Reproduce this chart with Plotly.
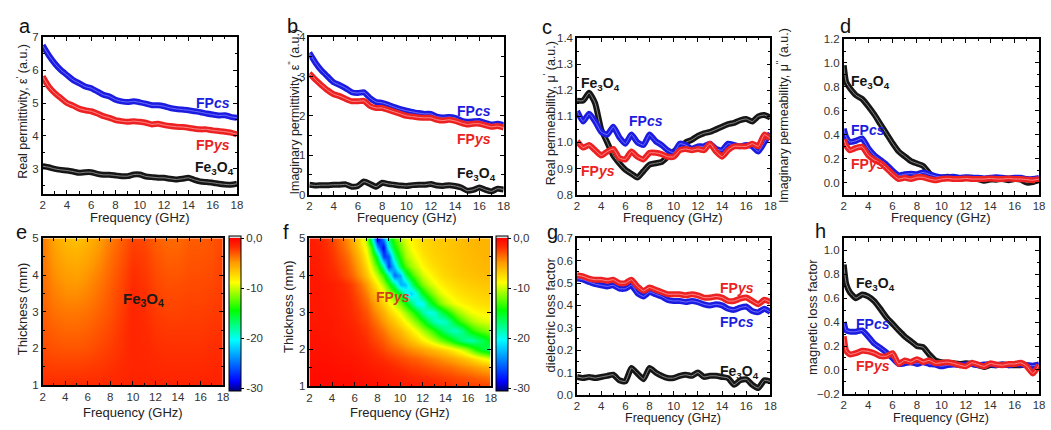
import plotly.graph_objects as go

# ---------------- data ----------------
FREQ = [2.0, 2.5, 3.0, 3.5, 4.0, 4.5, 5.0, 5.5, 6.0, 6.5, 7.0, 7.5, 8.0, 8.5, 9.0, 9.5, 10.0,
        10.5, 11.0, 11.5, 12.0, 12.5, 13.0, 13.5, 14.0, 14.5, 15.0, 15.5, 16.0, 16.5, 17.0, 17.5, 18.0]
FREQ_D = [2.0, 2.2, 2.5, 3.0, 3.5, 4.0, 4.5, 5.0, 5.5, 6.0, 6.5, 7.0, 7.5, 8.0, 8.5, 9.0, 9.5, 10.0,
          10.5, 11.0, 11.5, 12.0, 12.5, 13.0, 13.5, 14.0, 14.5, 15.0, 15.5, 16.0, 16.5, 17.0, 17.5, 18.0]

# (a) real permittivity
eps1_cs = [6.75, 6.45, 6.2, 6.0, 5.85, 5.7, 5.6, 5.5, 5.45, 5.35, 5.25, 5.2, 5.1, 5.05, 5.03, 5.05, 5.02,
           4.98, 4.93, 4.93, 4.9, 4.85, 4.82, 4.8, 4.78, 4.75, 4.72, 4.68, 4.65, 4.62, 4.63, 4.58, 4.55]
eps1_ys = [5.8, 5.5, 5.3, 5.15, 5.0, 4.92, 4.83, 4.78, 4.75, 4.68, 4.6, 4.55, 4.48, 4.45, 4.43, 4.45, 4.43,
           4.4, 4.35, 4.37, 4.33, 4.3, 4.28, 4.27, 4.25, 4.22, 4.2, 4.2, 4.17, 4.15, 4.13, 4.1, 4.05]
eps1_fe = [3.08, 3.05, 3.0, 2.97, 2.95, 2.92, 2.88, 2.9, 2.9, 2.85, 2.82, 2.82, 2.8, 2.78, 2.78, 2.83, 2.83,
           2.77, 2.75, 2.73, 2.73, 2.7, 2.68, 2.7, 2.73, 2.67, 2.62, 2.6, 2.58, 2.55, 2.53, 2.52, 2.55]

# (b) imaginary permittivity
eps2_cs = [3.6, 3.35, 3.15, 3.0, 2.85, 2.78, 2.7, 2.6, 2.58, 2.6, 2.45, 2.35, 2.33, 2.28, 2.22, 2.17, 2.13,
           2.1, 2.07, 2.05, 2.05, 1.98, 1.96, 1.97, 1.95, 1.88, 1.85, 1.86, 1.87, 1.82, 1.78, 1.8, 1.77]
eps2_ys = [3.08, 2.92, 2.78, 2.65, 2.55, 2.5, 2.43, 2.37, 2.37, 2.38, 2.25, 2.2, 2.2, 2.15, 2.1, 2.05, 2.0,
           1.98, 1.96, 1.95, 1.95, 1.9, 1.88, 1.9, 1.87, 1.82, 1.78, 1.8, 1.8, 1.76, 1.72, 1.74, 1.7]
eps2_fe = [0.25, 0.23, 0.24, 0.24, 0.25, 0.25, 0.26, 0.2, 0.22, 0.33, 0.27, 0.2, 0.3, 0.27, 0.25, 0.23, 0.22,
           0.24, 0.25, 0.25, 0.27, 0.23, 0.22, 0.24, 0.22, 0.18, 0.1, 0.12, 0.18, 0.12, 0.08, 0.15, 0.13]

# (c) real permeability
mu1_cs = [1.12, 1.08, 1.11, 1.08, 1.04, 1.03, 1.06, 1.02, 0.995, 1.03, 1.0, 0.99, 1.03, 1.005, 0.99, 0.97, 0.96,
          0.995, 0.99, 0.975, 0.985, 0.985, 0.995, 0.975, 0.97, 0.995, 0.99, 0.985, 0.99, 0.985, 0.965, 1.0, 1.035]
mu1_ys = [1.005, 0.98, 0.99, 0.97, 0.95, 0.965, 0.975, 0.94, 0.935, 0.965, 0.945, 0.935, 0.96, 0.96, 0.955, 0.945, 0.945,
          0.97, 0.975, 0.97, 0.975, 0.97, 0.995, 0.965, 0.945, 0.97, 0.985, 0.985, 0.985, 0.995, 0.985, 1.03, 1.015]
mu1_fe = [1.16, 1.16, 1.19, 1.15, 1.05, 1.0, 0.95, 0.92, 0.895, 0.88, 0.865, 0.89, 0.915, 0.92, 0.925, 0.945, 0.965,
          0.98, 1.0, 1.01, 1.025, 1.035, 1.04, 1.05, 1.06, 1.07, 1.075, 1.085, 1.09, 1.08, 1.1, 1.105, 1.095]

# (d) imaginary permeability
mu2_cs = [0.45, 0.38, 0.34, 0.35, 0.37, 0.29, 0.23, 0.19, 0.15, 0.10, 0.06, 0.07, 0.075, 0.07, 0.085, 0.07, 0.055,
          0.045, 0.045, 0.05, 0.04, 0.045, 0.04, 0.04, 0.035, 0.04, 0.045, 0.04, 0.035, 0.04, 0.04, 0.03, 0.03, 0.04]
mu2_ys = [0.36, 0.31, 0.27, 0.29, 0.30, 0.23, 0.19, 0.165, 0.12, 0.07, 0.03, 0.04, 0.03, 0.045, 0.045, 0.03, 0.02,
          0.03, 0.035, 0.03, 0.03, 0.035, 0.03, 0.03, 0.03, 0.035, 0.03, 0.03, 0.035, 0.03, 0.03, 0.025, 0.02, 0.03]
mu2_fe = [0.98, 0.84, 0.79, 0.73, 0.70, 0.64, 0.57, 0.49, 0.41, 0.33, 0.26, 0.22, 0.18, 0.16, 0.14, 0.08, 0.04,
          0.04, 0.05, 0.04, 0.03, 0.04, 0.04, 0.03, 0.015, 0.025, 0.025, 0.03, 0.02, 0.03, 0.025, 0.0, 0.005, 0.02]

# (e) reflection loss map (dB), Fe3O4
E_THICK = [1.0, 1.5, 2.0, 2.5, 3.0, 3.5, 4.0, 4.5, 5.0]
E_FREQ = [2, 3, 4, 5, 6, 7, 8, 9, 10, 11, 12, 13, 14, 15, 16, 17, 18]
RL_FE = [
    [-1.8, -1.8, -1.8, -1.8, -1.8, -1.8, -1.7, -1.6, -1.5, -1.5, -1.5, -1.5, -1.5, -1.5, -1.5, -1.4, -1.4],
    [-2.3, -2.4, -2.4, -2.4, -2.3, -2.2, -2.0, -1.8, -1.6, -1.6, -1.7, -1.8, -1.8, -1.8, -1.8, -1.7, -1.6],
    [-2.7, -2.9, -3.0, -3.0, -2.9, -2.6, -2.3, -2.0, -1.6, -1.7, -1.9, -2.0, -2.0, -2.0, -2.0, -1.9, -1.8],
    [-3.0, -3.3, -3.5, -3.5, -3.3, -3.0, -2.6, -2.1, -1.6, -1.8, -2.1, -2.2, -2.2, -2.2, -2.2, -2.1, -2.0],
    [-3.3, -3.8, -4.0, -4.0, -3.8, -3.4, -2.9, -2.3, -1.6, -1.9, -2.3, -2.5, -2.5, -2.4, -2.4, -2.3, -2.2],
    [-3.5, -4.2, -4.6, -4.6, -4.3, -3.8, -3.1, -2.5, -1.7, -2.0, -2.5, -2.7, -2.7, -2.6, -2.6, -2.5, -2.3],
    [-3.7, -4.6, -5.1, -5.2, -4.8, -4.2, -3.4, -2.7, -1.9, -2.2, -2.7, -3.0, -3.0, -2.8, -2.8, -2.7, -2.4],
    [-3.9, -5.0, -5.7, -5.8, -5.4, -4.7, -3.7, -3.0, -2.2, -2.4, -3.0, -3.3, -3.3, -3.0, -3.0, -2.9, -2.5],
    [-4.0, -5.4, -6.3, -6.5, -6.0, -5.2, -4.1, -3.3, -2.5, -2.7, -3.3, -3.6, -3.6, -3.2, -3.2, -3.0, -2.6],
]

# (f) reflection loss map (dB), FPys
F_THICK = [1.0, 1.25, 1.5, 1.75, 2.0, 2.25, 2.5, 2.75, 3.0, 3.25, 3.5, 3.75, 4.0, 4.25, 4.5, 4.75, 5.0]
F_FREQ = FREQ
RL_YS = [
    [-0.4, -0.4, -0.4, -0.4, -0.5, -0.5, -0.5, -0.5, -0.6, -0.6, -0.7, -0.7, -0.8, -0.8, -0.9, -1.0, -1.1,
     -1.2, -1.3, -1.3, -1.4, -1.5, -1.6, -1.7, -1.8, -1.9, -2.0, -2.1, -2.2, -2.3, -2.4, -2.5, -2.6],
    [-0.5, -0.5, -0.5, -0.5, -0.6, -0.6, -0.6, -0.6, -0.7, -0.7, -0.8, -0.9, -1.0, -1.1, -1.2, -1.3, -1.4,
     -1.5, -1.7, -1.8, -1.9, -2.0, -2.1, -2.2, -2.4, -2.5, -2.7, -2.8, -3.0, -3.2, -3.4, -3.6, -3.8],
    [-0.6, -0.6, -0.6, -0.6, -0.7, -0.7, -0.8, -0.8, -0.9, -1.0, -1.1, -1.2, -1.3, -1.4, -1.6, -1.8, -2.0,
     -2.2, -2.4, -2.5, -2.7, -2.9, -3.1, -3.3, -3.5, -3.7, -4.0, -4.3, -4.6, -4.9, -5.3, -5.6, -6.0],
    [-0.7, -0.7, -0.7, -0.7, -0.8, -0.8, -0.9, -0.9, -1.0, -1.1, -1.3, -1.5, -1.7, -1.9, -2.2, -2.4, -2.7,
     -2.9, -3.2, -3.4, -3.7, -4.0, -4.3, -4.6, -5.0, -5.4, -5.8, -6.4, -7.0, -7.7, -8.5, -9.2, -10.0],
    [-0.8, -0.8, -0.8, -0.8, -0.9, -0.9, -1.0, -1.1, -1.2, -1.4, -1.6, -1.9, -2.2, -2.6, -3.0, -3.4, -3.8,
     -4.2, -4.6, -5.0, -5.4, -5.9, -6.4, -6.9, -7.5, -8.2, -9.0, -10.0, -11.5, -13.2, -15.0, -16.2, -17.0],
    [-0.8, -0.8, -0.9, -0.9, -1.0, -1.1, -1.2, -1.3, -1.4, -1.6, -1.9, -2.3, -2.7, -3.2, -3.8, -4.4, -5.0,
     -5.7, -6.5, -7.4, -8.3, -9.3, -10.5, -11.7, -13.0, -14.5, -16.0, -17.5, -18.5, -18.3, -17.0, -15.8, -14.5],
    [-0.9, -0.9, -1.0, -1.0, -1.1, -1.2, -1.3, -1.4, -1.6, -1.9, -2.2, -2.7, -3.3, -4.0, -4.7, -5.5, -6.3,
     -7.2, -8.3, -9.5, -10.8, -12.3, -14.0, -15.8, -17.5, -18.8, -19.0, -17.5, -15.0, -13.5, -12.5, -11.9, -11.5],
    [-1.0, -1.0, -1.0, -1.0, -1.1, -1.2, -1.4, -1.6, -1.8, -2.2, -2.6, -3.2, -4.0, -4.9, -5.8, -6.8, -7.8,
     -9.0, -10.5, -12.2, -14.0, -16.5, -18.8, -19.5, -19.0, -16.8, -14.5, -12.8, -11.5, -10.6, -10.0, -9.7, -9.5],
    [-1.0, -1.0, -1.0, -1.1, -1.2, -1.3, -1.5, -1.7, -2.0, -2.4, -3.0, -3.8, -4.8, -5.8, -7.0, -8.2, -9.5,
     -11.0, -13.0, -15.3, -18.0, -20.0, -19.5, -17.0, -15.0, -13.0, -11.5, -10.4, -9.5, -9.0, -8.7, -8.5, -8.3],
    [-1.0, -1.0, -1.1, -1.1, -1.2, -1.4, -1.6, -1.8, -2.2, -2.8, -3.5, -4.5, -5.8, -7.1, -8.5, -10.1, -12.0,
     -14.3, -17.0, -20.5, -20.5, -16.5, -14.0, -12.0, -10.5, -9.6, -9.0, -8.5, -8.2, -7.9, -7.7, -7.6, -7.5],
    [-1.0, -1.0, -1.1, -1.2, -1.3, -1.5, -1.7, -2.0, -2.5, -3.2, -4.2, -5.5, -7.0, -8.7, -10.5, -12.8, -15.5,
     -19.5, -22.0, -19.0, -15.0, -12.8, -11.0, -9.8, -9.0, -8.4, -8.0, -7.7, -7.5, -7.3, -7.2, -7.1, -7.0],
    [-1.0, -1.0, -1.1, -1.2, -1.3, -1.5, -1.8, -2.2, -2.8, -3.8, -5.0, -6.6, -8.5, -10.8, -13.5, -17.5, -23.0,
     -22.5, -17.5, -13.8, -11.8, -10.3, -9.3, -8.6, -8.0, -7.7, -7.4, -7.2, -7.0, -6.9, -6.8, -6.7, -6.7],
    [-1.0, -1.1, -1.2, -1.4, -1.7, -2.0, -2.5, -3.1, -3.9, -5.0, -6.5, -8.3, -10.5, -13.5, -18.0, -25.5, -23.0,
     -17.0, -13.5, -11.5, -10.0, -9.0, -8.2, -7.7, -7.3, -7.1, -6.9, -6.7, -6.6, -6.5, -6.4, -6.3, -6.3],
    [-1.1, -1.2, -1.3, -1.6, -1.9, -2.3, -2.8, -3.5, -4.4, -5.7, -7.5, -9.8, -13.0, -18.5, -27.0, -22.0, -16.0,
     -12.8, -11.0, -9.8, -8.8, -8.1, -7.6, -7.3, -7.0, -6.8, -6.7, -6.5, -6.4, -6.3, -6.2, -6.1, -6.1],
    [-1.1, -1.2, -1.4, -1.7, -2.1, -2.6, -3.2, -4.0, -5.0, -6.5, -8.5, -11.5, -16.5, -27.0, -26.0, -17.5, -13.5,
     -11.0, -9.8, -8.8, -8.0, -7.5, -7.2, -7.0, -6.9, -6.7, -6.6, -6.4, -6.3, -6.2, -6.1, -6.0, -6.0],
    [-1.2, -1.3, -1.5, -1.9, -2.3, -2.9, -3.6, -4.6, -5.8, -7.3, -9.5, -13.5, -24.0, -29.0, -20.0, -14.5, -12.0,
     -10.3, -9.0, -8.2, -7.6, -7.3, -7.0, -6.9, -6.8, -6.6, -6.5, -6.3, -6.2, -6.1, -6.0, -6.0, -6.0],
    [-1.2, -1.4, -1.6, -2.0, -2.5, -3.2, -4.0, -5.0, -6.3, -8.0, -11.0, -18.0, -30.0, -24.0, -17.0, -13.0, -11.0,
     -9.5, -8.5, -8.0, -7.5, -7.2, -7.0, -6.9, -6.8, -6.6, -6.5, -6.3, -6.2, -6.1, -6.0, -6.0, -6.0],
]

# (g) dielectric loss factor
tde_cs = [0.52, 0.515, 0.505, 0.495, 0.49, 0.485, 0.49, 0.475, 0.475, 0.49, 0.455, 0.44, 0.46, 0.45, 0.44, 0.425, 0.42,
          0.42, 0.415, 0.42, 0.415, 0.405, 0.4, 0.405, 0.4, 0.385, 0.38, 0.39, 0.395, 0.375, 0.37, 0.385, 0.37]
tde_ys = [0.535, 0.53, 0.52, 0.515, 0.515, 0.51, 0.515, 0.5, 0.5, 0.515, 0.485, 0.465, 0.48, 0.47, 0.46, 0.45, 0.45,
          0.45, 0.445, 0.45, 0.445, 0.435, 0.435, 0.44, 0.435, 0.42, 0.42, 0.43, 0.435, 0.42, 0.405, 0.425, 0.415]
tde_fe = [0.08, 0.075, 0.08, 0.075, 0.08, 0.085, 0.09, 0.065, 0.06, 0.12, 0.095, 0.07, 0.12, 0.1, 0.085, 0.075, 0.075,
          0.085, 0.09, 0.085, 0.1, 0.08, 0.085, 0.085, 0.08, 0.075, 0.045, 0.065, 0.07, 0.045, 0.03, 0.065, 0.06]

# (h) magnetic loss factor
tdm_cs = [0.40, 0.33, 0.32, 0.32, 0.33, 0.28, 0.22, 0.185, 0.145, 0.10, 0.05, 0.055, 0.065, 0.05, 0.065, 0.05, 0.045,
          0.03, 0.04, 0.045, 0.04, 0.045, 0.05, 0.04, 0.045, 0.05, 0.04, 0.045, 0.04, 0.05, 0.045, 0.04, 0.035, 0.045]
tdm_ys = [0.28, 0.16, 0.13, 0.14, 0.16, 0.155, 0.14, 0.115, 0.115, 0.14, 0.05, 0.08, 0.065, 0.09, 0.065, 0.08, 0.055,
          0.06, 0.065, 0.055, 0.04, 0.03, 0.06, 0.045, 0.03, 0.055, 0.045, 0.04, 0.05, 0.05, 0.06, 0.03, -0.03, 0.04]
tdm_fe = [0.88, 0.72, 0.65, 0.60, 0.63, 0.615, 0.575, 0.51, 0.44, 0.385, 0.33, 0.28, 0.24, 0.20, 0.19, 0.13, 0.08,
          0.065, 0.06, 0.055, 0.05, 0.055, 0.05, 0.04, 0.025, 0.04, 0.04, 0.045, 0.04, 0.04, 0.04, 0.04, 0.01, 0.04]

# ---------------- styling ----------------
W, H = 1051, 430
FONT = "Arial, 'Liberation Sans', sans-serif"
BLUE, BLUE_CORE = "#1c1ce0", "#7070ff"
RED, RED_CORE = "#ec2222", "#ff8a8a"
BLACK, BLACK_CORE = "#161616", "#8a8a8a"

RL_SCALE = [[0.0, "#00007a"], [0.06, "#0000ff"], [0.33, "#00ffff"], [0.52, "#00ff00"],
            [0.70, "#ffff00"], [0.83, "#ff9900"], [0.93, "#ff2a00"], [0.988, "#ff0000"],
            [0.99, "#dcdcdc"], [1.0, "#dcdcdc"]]

# panel boxes in pixels: left, right, top, bottom
BOX = {
    "a": (40, 236, 32, 193), "b": (309, 505, 32, 194), "c": (579, 774, 33, 194), "d": (848, 1045, 34, 194),
    "e": (40, 222, 239, 390), "f": (309, 492, 239, 391), "g": (579, 774, 239, 400), "h": (848, 1045, 239, 399),
}
ORDER = ["a", "b", "c", "d", "e", "f", "g", "h"]
YAX = {
    "a": dict(range=[2.25, 7], dtick=1, minor=0.5, fmt="d"),
    "b": dict(range=[0, 4], dtick=1, minor=0.5, fmt="d"),
    "c": dict(range=[0.8, 1.4], dtick=0.1, minor=0.05, fmt=".1f"),
    "d": dict(range=[-0.1, 1.2], dtick=0.2, minor=0.1, fmt=".1f"),
    "e": dict(range=[1, 5], dtick=1, minor=0.5, fmt="d"),
    "f": dict(range=[1, 5], dtick=1, minor=0.5, fmt="d"),
    "g": dict(range=[0, 0.7], dtick=0.1, minor=0.05, fmt=".1f"),
    "h": dict(range=[-0.2, 1.1], dtick=0.2, minor=0.1, fmt=".1f"),
}


def px_x(v):
    return v / W


def px_y(v):
    return 1 - v / H


fig = go.Figure()
layout = {}
for i, key in enumerate(ORDER, start=1):
    l, r, t, b = BOX[key]
    sfx = "" if i == 1 else str(i)
    common = dict(showline=True, linecolor="black", linewidth=1.5, mirror="allticks",
                  ticks="inside", ticklen=4, tickwidth=1, tickcolor="black",
                  showgrid=False, zeroline=False,
                  tickfont=dict(family=FONT, size=11.5, color="#333333"))
    layout["xaxis" + sfx] = dict(common, domain=[px_x(l), px_x(r)], anchor="y" + sfx,
                                 range=[2, 18], tick0=2, dtick=2,
                                 minor=dict(ticks="inside", ticklen=2.5, tickcolor="black", dtick=1, tick0=2))
    ya = YAX[key]
    layout["yaxis" + sfx] = dict(common, domain=[px_y(b), px_y(t)], anchor="x" + sfx,
                                 range=ya["range"], dtick=ya["dtick"], tick0=0, tickformat=ya["fmt"],
                                 minor=dict(ticks="inside", ticklen=2.5, tickcolor="black",
                                            dtick=ya["minor"], tick0=0))


def axes_of(key):
    i = ORDER.index(key) + 1
    s = "" if i == 1 else str(i)
    return "x" + s, "y" + s


def band(key, x, y, color, core):
    xa, ya = axes_of(key)
    fig.add_trace(go.Scatter(x=x, y=y, mode="lines", xaxis=xa, yaxis=ya,
                             line=dict(color=color, width=6, shape="spline", smoothing=0.5),
                             showlegend=False, hoverinfo="skip"))
    fig.add_trace(go.Scatter(x=x, y=y, mode="lines", xaxis=xa, yaxis=ya,
                             line=dict(color=core, width=1, shape="spline", smoothing=0.5),
                             showlegend=False, hoverinfo="skip"))


for key, fx, fe, cs, ys in [
    ("a", FREQ, eps1_fe, eps1_cs, eps1_ys),
    ("b", FREQ, eps2_fe, eps2_cs, eps2_ys),
    ("c", FREQ, mu1_fe, mu1_cs, mu1_ys),
    ("d", FREQ_D, mu2_fe, mu2_cs, mu2_ys),
    ("g", FREQ, tde_fe, tde_cs, tde_ys),
    ("h", FREQ_D, tdm_fe, tdm_cs, tdm_ys),
]:
    band(key, fx, fe, BLACK, BLACK_CORE)
    band(key, fx, cs, BLUE, BLUE_CORE)
    band(key, fx, ys, RED, RED_CORE)

for key, fx, thick, z, cbx in [("e", E_FREQ, E_THICK, RL_FE, 228), ("f", F_FREQ, F_THICK, RL_YS, 497)]:
    xa, ya = axes_of(key)
    fig.add_trace(go.Heatmap(
        x=fx, y=thick, z=z, xaxis=xa, yaxis=ya, zsmooth="best",
        colorscale=RL_SCALE, zmin=-30.6, zmax=0.35, hoverinfo="skip",
        colorbar=dict(x=px_x(cbx), xanchor="left", y=px_y(237), yanchor="top",
                      len=159 / H, lenmode="fraction", thickness=12, xpad=0, ypad=0,
                      outlinecolor="black", outlinewidth=1,
                      tickvals=[0, -10, -20, -30], ticktext=["0,0", "-10", "-20", "-30"],
                      ticks="outside", ticklen=3, tickcolor="black",
                      tickfont=dict(family=FONT, size=11.5, color="#333333")),
    ))

ann = []


def label(key, x, y, text, color, xanchor="left", size=14):
    xa, ya = axes_of(key)
    ann.append(dict(xref=xa, yref=ya, x=x, y=y, text="<b>" + text + "</b>", showarrow=False,
                    xanchor=xanchor, yanchor="middle",
                    font=dict(family=FONT, size=size, color=color)))


FE = "Fe<sub>3</sub>O<sub>4</sub>"
CS = "FP<i>cs</i>"
YS = "FP<i>ys</i>"
label("a", 17.6, 5.0, CS, BLUE, "right")
label("a", 17.6, 3.73, YS, RED, "right")
label("a", 17.9, 3.02, FE, BLACK, "right")
label("b", 17.1, 2.12, CS, BLUE, "right")
label("b", 17.1, 1.4, YS, RED, "right")
label("b", 17.5, 0.52, FE, BLACK, "right")
label("c", 2.2, 1.225, FE, BLACK)
label("c", 6.1, 1.083, CS, BLUE)
label("c", 2.2, 0.89, YS, RED)
label("d", 2.45, 0.84, FE, BLACK)
label("d", 2.4, 0.44, CS, BLUE)
label("d", 2.4, 0.155, YS, RED)
label("e", 10.9, 3.33, FE, "#1a1a1a", "center", 15)
label("f", 9.35, 3.4, YS, "#d2401a", "center", 14)
label("g", 16.8, 0.478, YS, RED, "right")
label("g", 16.8, 0.326, CS, BLUE, "right")
label("g", 17.2, 0.1, FE, BLACK, "right")
label("h", 2.8, 0.72, FE, BLACK)
label("h", 2.8, 0.38, CS, BLUE)
label("h", 2.8, 0.035, YS, RED)


def paper_text(xp, yp, text, size=13, angle=0, color="#222222"):
    ann.append(dict(xref="paper", yref="paper", x=px_x(xp), y=px_y(yp), text=text,
                    showarrow=False, textangle=angle, xanchor="center", yanchor="middle",
                    font=dict(family=FONT, size=size, color=color)))


# panel letters
for key, (xp, yp) in {"a": (22, 21), "b": (292, 21), "c": (549, 22), "d": (850, 21),
                      "e": (19, 232), "f": (285, 232), "g": (554, 232), "h": (825, 231)}.items():
    paper_text(xp, yp, key, size=20, color="#111111")

# x titles
for xp, yp, sz in [(138, 218, 13), (407, 218, 13), (676, 218, 13), (946, 218, 13),
                   (131, 418, 13), (400, 418, 13), (676, 424, 12.5), (946, 424, 12.5)]:
    paper_text(xp, yp, "Frequency (GHz)", size=sz)

# y titles
paper_text(19, 108, "Real permittivity, ε<sup>'</sup> (a.u.)", 12.5, -90)
paper_text(293, 108, "Imaginary permittivity, ε<sup>''</sup> (a.u.)", 12.5, -90)
paper_text(551, 110, "Real permeability, μ<sup>'</sup> (a.u.)", 12.5, -90)
paper_text(786, 113, "Imaginary permeability, μ<sup>''</sup> (a.u.)", 12.5, -90)
paper_text(19, 312, "Thickness (mm)", 13, -90)
paper_text(288, 310, "Thickness (mm)", 13, -90)
paper_text(552, 318, "dielectric loss factor", 13, -90)
paper_text(816, 320, "magnetic loss factor", 13, -90)

fig.update_layout(width=W, height=H, margin=dict(l=0, r=0, t=0, b=0),
                  paper_bgcolor="white", plot_bgcolor="white",
                  font=dict(family=FONT), showlegend=False, annotations=ann, **layout)

fig.write_html("out.html")
